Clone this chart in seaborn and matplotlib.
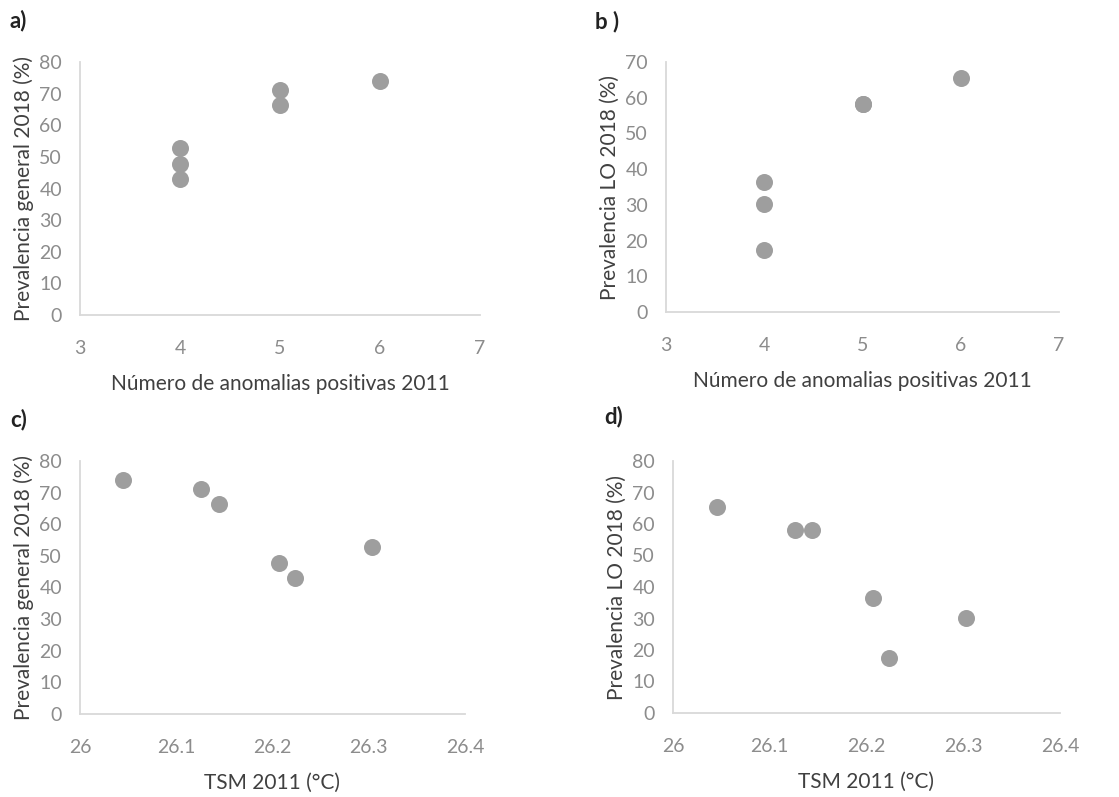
import matplotlib
matplotlib.use("Agg")
import matplotlib.pyplot as plt
import seaborn as sns
import pandas as pd

# Data (six sites)
anomalias_2011 = [6, 5, 5, 4, 4, 4]
tsm_2011 = [26.045, 26.126, 26.144, 26.207, 26.223, 26.303]
prev_general_2018 = [74.0, 71.2, 66.3, 47.8, 43.1, 52.8]
prev_lo_2018 = [65.5, 58.2, 58.2, 36.5, 17.5, 30.2]

df = pd.DataFrame({
    "anom": anomalias_2011,
    "tsm": tsm_2011,
    "gen": prev_general_2018,
    "lo": prev_lo_2018,
})

sns.set_theme(style="white")
plt.rcParams['font.family'] = ['Lato', 'DejaVu Sans']

W, H = 1119, 797
fig = plt.figure(figsize=(W / 100, H / 100), dpi=100)

def px_axes(left, top, right, bottom):
    return fig.add_axes([left / W, 1 - bottom / H, (right - left) / W, (bottom - top) / H])

tick_color = "#8c8c8c"
label_color = "#404040"
spine_color = "#d9d9d9"
marker_color = "#9e9e9e"

panels = [
    dict(box=(80, 62, 480, 315), x="anom", y="gen", xlim=(3, 7), xticks=[3, 4, 5, 6, 7],
         xtl=["3", "4", "5", "6", "7"], ylim=(0, 80), yticks=range(0, 81, 10),
         xlabel="Número de anomalias positivas 2011", ylabel="Prevalencia general 2018 (%)",
         tag="a)", tagpos=(10, 21)),
    dict(box=(666, 62, 1059, 312), x="anom", y="lo", xlim=(3, 7), xticks=[3, 4, 5, 6, 7],
         xtl=["3", "4", "5", "6", "7"], ylim=(0, 70), yticks=range(0, 71, 10),
         xlabel="Número de anomalias positivas 2011", ylabel="Prevalencia LO 2018 (%)",
         tag="b )", tagpos=(595, 22)),
    dict(box=(80, 461, 465, 714), x="tsm", y="gen", xlim=(26.0, 26.4),
         xticks=[26.0, 26.1, 26.2, 26.3, 26.4], xtl=["26", "26.1", "26.2", "26.3", "26.4"],
         ylim=(0, 80), yticks=range(0, 81, 10),
         xlabel="TSM 2011 (°C)", ylabel="Prevalencia general 2018 (%)",
         tag="c)", tagpos=(10, 420)),
    dict(box=(673, 461, 1060, 713), x="tsm", y="lo", xlim=(26.0, 26.4),
         xticks=[26.0, 26.1, 26.2, 26.3, 26.4], xtl=["26", "26.1", "26.2", "26.3", "26.4"],
         ylim=(0, 80), yticks=range(0, 81, 10),
         xlabel="TSM 2011 (°C)", ylabel="Prevalencia LO 2018 (%)",
         tag="d)", tagpos=(604, 417)),
]

for p in panels:
    ax = px_axes(*p["box"])
    sns.scatterplot(data=df, x=p["x"], y=p["y"], ax=ax, s=150, color=marker_color,
                    edgecolor=marker_color, linewidth=0, clip_on=False, zorder=3)
    ax.set_xlim(*p["xlim"])
    ax.set_ylim(*p["ylim"])
    ax.set_xticks(p["xticks"])
    ax.set_xticklabels(p["xtl"])
    ax.set_yticks(list(p["yticks"]))
    ax.tick_params(axis="both", colors=tick_color, labelsize=14, length=0)
    ax.tick_params(axis="x", pad=18)
    ax.tick_params(axis="y", pad=13)
    for side in ["top", "right"]:
        ax.spines[side].set_visible(False)
    for side in ["left", "bottom"]:
        ax.spines[side].set_color(spine_color)
        ax.spines[side].set_linewidth(1.3)
    ax.set_xlabel(p["xlabel"], fontsize=15, color=label_color, labelpad=12)
    ax.set_ylabel(p["ylabel"], fontsize=15, color=label_color, labelpad=4)
    ax.grid(False)
    fig.text(p["tagpos"][0] / W, 1 - p["tagpos"][1] / H, p["tag"], fontsize=16,
             fontweight="bold", color="#222222", va="center", ha="left")

fig.savefig("out.png", dpi=100, facecolor="white")
